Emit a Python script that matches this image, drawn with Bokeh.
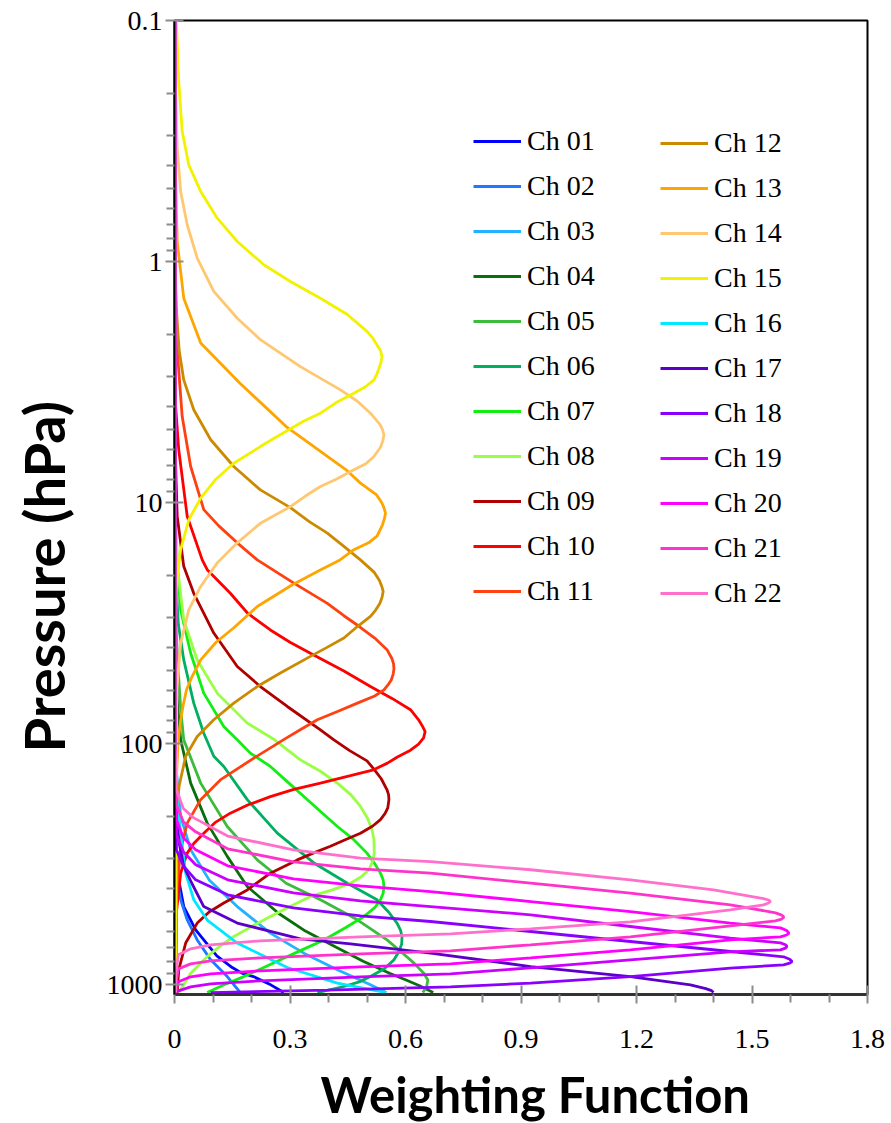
from bokeh.plotting import figure
from bokeh.models import Range1d, FixedTicker, Legend, LegendItem, Title
from bokeh.embed import file_html
from bokeh.resources import INLINE

# ---- data: pressure (hPa) and weighting function values ----
P01 = [0.1, 100, 250, 368, 475, 593, 680, 760, 850, 897, 927, 1003, 1080]
W01 = [0.001, 0.001, 0.003, 0.011, 0.024, 0.055, 0.085, 0.11, 0.15, 0.175, 0.205, 0.25, 0.284]

P02 = [0.1, 100, 250, 368, 445, 539, 653, 790, 927, 1080]
W02 = [0.001, 0.001, 0.002, 0.007, 0.016, 0.033, 0.059, 0.094, 0.137, 0.171]

P03 = [0.1, 60, 120, 200, 276, 368, 475, 612, 741, 869, 1003, 1080]
W03 = [0.001, 0.001, 0.003, 0.016, 0.042, 0.09, 0.163, 0.249, 0.336, 0.423, 0.509, 0.55]

P04 = [0.1, 20, 40, 70, 96.5, 146, 214, 294, 392, 506, 600, 700, 800, 900, 956, 1010, 1080]
W04 = [0.001, 0.001, 0.003, 0.008, 0.016, 0.042, 0.085, 0.137, 0.189, 0.27, 0.34, 0.42, 0.49, 0.56, 0.60, 0.635, 0.672]

P05 = [0.1, 15, 30, 45, 72, 96.5, 146, 221, 304, 380, 445, 539, 653, 735, 815, 900, 957, 1020, 1080]
W05 = [0.001, 0.001, 0.003, 0.008, 0.016, 0.024, 0.068, 0.137, 0.215, 0.29, 0.379, 0.475, 0.552, 0.59, 0.622, 0.648, 0.658, 0.655, 0.645]

P06 = [0.1, 10, 20, 32, 45, 68, 90.6, 113, 124.5, 171, 235.5, 313, 380, 445, 500, 556, 595, 632, 680, 735, 790, 860, 927, 975, 1019, 1080]
W06 = [0.001, 0.001, 0.003, 0.010, 0.024, 0.050, 0.076, 0.102, 0.128, 0.189, 0.267, 0.362, 0.449, 0.526, 0.556, 0.578, 0.587, 0.591, 0.59, 0.582, 0.570, 0.545, 0.509, 0.48, 0.440, 0.371]

P07 = [0.1, 8, 15, 27.9, 42.2, 61.8, 85, 96.5, 109.6, 124.5, 145, 166, 192, 221, 250, 285, 315, 345, 368, 392, 418, 445, 480, 522, 580, 653, 720, 790, 860, 927, 1000, 1080]
W07 = [0.001, 0.001, 0.003, 0.016, 0.042, 0.076, 0.128, 0.163, 0.197, 0.249, 0.295, 0.336, 0.38, 0.423, 0.465, 0.50, 0.52, 0.535, 0.542, 0.544, 0.542, 0.535, 0.52, 0.492, 0.445, 0.388, 0.33, 0.275, 0.225, 0.180, 0.13, 0.085]

P08 = [0.1, 6, 12, 20, 30.7, 45, 61.8, 82.3, 96.5, 116.9, 130, 146, 163, 182.5, 205, 228, 250, 285, 310, 334, 357, 380, 405, 431, 475, 522, 575, 632, 700, 766, 897, 1080]
W08 = [0.001, 0.001, 0.003, 0.010, 0.024, 0.059, 0.111, 0.189, 0.26, 0.327, 0.378, 0.423, 0.458, 0.483, 0.502, 0.513, 0.518, 0.519, 0.514, 0.505, 0.485, 0.457, 0.41, 0.353, 0.30, 0.249, 0.20, 0.154, 0.115, 0.085, 0.042, 0.012]

P09 = [0.1, 4, 7, 11.4, 18.4, 23.8, 34.8, 47.9, 58, 70.2, 87.7, 96.5, 107, 118, 129, 140, 155.6, 163, 171, 185, 195, 207, 220, 235.5, 250, 267, 285, 304, 345, 405, 459, 500, 556, 673, 869, 1080]
W09 = [0.001, 0.001, 0.003, 0.007, 0.024, 0.050, 0.102, 0.163, 0.223, 0.293, 0.379, 0.414, 0.455, 0.50, 0.52, 0.537, 0.552, 0.556, 0.557, 0.554, 0.547, 0.535, 0.515, 0.483, 0.445, 0.405, 0.36, 0.319, 0.249, 0.189, 0.128, 0.09, 0.059, 0.029, 0.011, 0.007]

P10 = [0.1, 2, 4, 6.04, 11.4, 17.3, 19.0, 23.8, 28.8, 33.8, 38, 42.2, 50, 58, 65, 72.4, 79.7, 85.3, 89.2, 94.7, 100.5, 106.6, 113.7, 120.6, 128.6, 136, 146, 155, 166, 180, 194.5, 213, 235.5, 260, 285, 345, 500, 1080]
W10 = [0.001, 0.001, 0.003, 0.011, 0.033, 0.072, 0.085, 0.145, 0.19, 0.249, 0.30, 0.353, 0.44, 0.509, 0.565, 0.613, 0.634, 0.645, 0.651, 0.647, 0.634, 0.613, 0.579, 0.553, 0.517, 0.457, 0.379, 0.31, 0.249, 0.19, 0.145, 0.105, 0.076, 0.05, 0.033, 0.016, 0.005, 0.003]

P11 = [0.1, 1, 2.33, 4.40, 7.09, 10.7, 12.5, 14.7, 17.3, 21.6, 26.2, 29.5, 32.7, 36.5, 40.8, 44.5, 46.7, 49, 51.5, 54.5, 57, 59.9, 63.5, 68, 73.5, 79.7, 87, 95, 115, 141.6, 171, 214, 276, 400, 1080]
W11 = [0.001, 0.001, 0.007, 0.020, 0.042, 0.076, 0.115, 0.163, 0.215, 0.310, 0.397, 0.44, 0.480, 0.52, 0.552, 0.565, 0.569, 0.57, 0.568, 0.563, 0.555, 0.544, 0.52, 0.475, 0.425, 0.371, 0.33, 0.29, 0.206, 0.119, 0.068, 0.033, 0.016, 0.006, 0.003]

P12 = [0.1, 0.8, 1.5, 2.33, 3.10, 4.12, 5.49, 7.09, 8.86, 10.5, 12.0, 13.4, 15.2, 17.3, 19.5, 21.0, 22.2, 23.4, 24.8, 26.3, 28.0, 29.7, 32.7, 36.5, 40, 43.5, 51, 58, 68, 79.7, 93.5, 113, 150, 200, 1080]
W12 = [0.001, 0.001, 0.004, 0.012, 0.024, 0.050, 0.094, 0.154, 0.223, 0.301, 0.35, 0.397, 0.44, 0.483, 0.519, 0.532, 0.538, 0.542, 0.539, 0.533, 0.522, 0.509, 0.475, 0.440, 0.395, 0.353, 0.275, 0.215, 0.154, 0.102, 0.059, 0.029, 0.012, 0.005, 0.002]

P13 = [0.1, 0.4, 0.826, 1.42, 2.18, 3.20, 4.0, 4.84, 5.6, 6.44, 7.3, 8.31, 9.3, 10.0, 10.5, 11.07, 11.7, 12.4, 13.8, 14.7, 15.7, 17.3, 19, 22, 27, 33, 38, 45, 53, 60, 70, 80, 100, 150, 1080]
W13 = [0.001, 0.002, 0.007, 0.024, 0.068, 0.17, 0.235, 0.29, 0.345, 0.397, 0.445, 0.483, 0.525, 0.538, 0.544, 0.548, 0.545, 0.540, 0.526, 0.504, 0.466, 0.43, 0.38, 0.305, 0.215, 0.155, 0.108, 0.068, 0.045, 0.031, 0.022, 0.016, 0.009, 0.004, 0.002]

P14 = [0.1, 0.2, 0.338, 0.512, 0.704, 0.968, 1.33, 1.72, 2.11, 2.73, 3.41, 3.8, 4.26, 4.75, 4.97, 5.24, 5.55, 5.9, 6.44, 6.9, 7.32, 8.0, 8.58, 9.4, 10.4, 12.2, 14.7, 17.8, 22.3, 27.9, 38.3, 60, 1080]
W14 = [0.002, 0.003, 0.007, 0.016, 0.033, 0.059, 0.102, 0.163, 0.223, 0.327, 0.431, 0.475, 0.509, 0.534, 0.540, 0.544, 0.541, 0.535, 0.518, 0.497, 0.466, 0.42, 0.379, 0.34, 0.301, 0.223, 0.163, 0.111, 0.068, 0.037, 0.016, 0.006, 0.003]

P15 = [0.1, 0.179, 0.289, 0.397, 0.512, 0.661, 0.826, 1.032, 1.21, 1.42, 1.66, 1.95, 2.09, 2.22, 2.34, 2.48, 2.63, 2.78, 2.95, 3.10, 3.30, 3.52, 3.85, 4.26, 4.6, 4.99, 5.4, 5.86, 6.87, 8.05, 9.59, 11.8, 15.7, 21.5, 30, 1080]
W15 = [0.005, 0.011, 0.020, 0.037, 0.068, 0.111, 0.163, 0.232, 0.301, 0.379, 0.449, 0.500, 0.516, 0.526, 0.535, 0.539, 0.536, 0.531, 0.525, 0.518, 0.497, 0.466, 0.42, 0.379, 0.335, 0.297, 0.26, 0.223, 0.154, 0.106, 0.068, 0.037, 0.016, 0.005, 0.003, 0.003]

P16 = [0.1, 80, 150, 235, 345, 445, 540, 673, 850, 986, 1080]
W16 = [0.001, 0.001, 0.003, 0.016, 0.029, 0.05, 0.085, 0.163, 0.293, 0.423, 0.55]

P17 = [0.1, 100, 207, 263, 323, 380, 475, 556, 646, 678, 741, 842, 926.5, 1003, 1040, 1060, 1080]
W17 = [0.001, 0.001, 0.005, 0.013, 0.024, 0.045, 0.076, 0.163, 0.327, 0.457, 0.665, 0.925, 1.184, 1.340, 1.38, 1.395, 1.40]

P18 = [0.1, 150, 276, 321.8, 367.8, 424.5, 480.7, 518.8, 547.7, 602.6, 663, 729.5, 767.4, 785, 802.7, 815, 828.5, 855, 926.5, 986.7, 1022, 1055, 1080]
W18 = [0.001, 0.001, 0.005, 0.023, 0.055, 0.138, 0.309, 0.483, 0.665, 0.925, 1.184, 1.444, 1.582, 1.598, 1.604, 1.598, 1.582, 1.444, 1.184, 0.925, 0.717, 0.397, 0.094]

P19 = [0.1, 100, 239.3, 281.4, 318.7, 367.8, 416.5, 449.5, 474.8, 513.7, 574.5, 642, 671.4, 684, 695.6, 706, 717.8, 731.6, 789.7, 852.5, 902.8, 929, 965, 993.4, 1022, 1062, 1080]
W19 = [0.001, 0.001, 0.005, 0.023, 0.055, 0.138, 0.309, 0.483, 0.665, 0.925, 1.184, 1.444, 1.574, 1.587, 1.591, 1.587, 1.574, 1.444, 1.184, 0.925, 0.717, 0.483, 0.223, 0.094, 0.042, 0.010, 0.003]

P20 = [0.1, 100, 207.3, 246.2, 276.1, 321.8, 364.3, 389.5, 411.4, 452.5, 498, 556.3, 582, 597, 612, 623, 634, 652.3, 717.8, 775, 820.6, 844.6, 877.4, 902.8, 929, 974.5, 1080]
W20 = [0.001, 0.001, 0.005, 0.023, 0.055, 0.138, 0.309, 0.483, 0.665, 0.925, 1.184, 1.444, 1.574, 1.590, 1.596, 1.590, 1.574, 1.444, 1.184, 0.925, 0.717, 0.483, 0.223, 0.094, 0.042, 0.010, 0.003]

P21 = [0.1, 100, 179.7, 211.3, 232.5, 273.5, 309.6, 331.2, 345, 379.6, 417.7, 467, 504.1, 515, 525, 535, 544, 570.8, 634, 684.3, 724.8, 745.7, 775, 797.5, 820.6, 860.8, 1003, 1080]
W21 = [0.001, 0.001, 0.005, 0.023, 0.055, 0.138, 0.309, 0.483, 0.665, 0.925, 1.184, 1.444, 1.561, 1.577, 1.583, 1.577, 1.561, 1.444, 1.184, 0.925, 0.717, 0.483, 0.223, 0.094, 0.042, 0.010, 0.003, 0.003]

P22 = [0.1, 100, 156, 186, 203, 242, 276, 299, 309, 334, 368, 405, 440, 446, 452, 459, 467, 490, 549.2, 587.3, 616, 634, 658.6, 684.3, 711, 753, 911.5, 1080]
W22 = [0.001, 0.001, 0.005, 0.023, 0.049, 0.138, 0.309, 0.483, 0.665, 0.925, 1.184, 1.400, 1.530, 1.543, 1.548, 1.543, 1.530, 1.444, 1.184, 0.925, 0.717, 0.483, 0.223, 0.094, 0.042, 0.010, 0.003, 0.003]

LABELS = ["Ch %02d" % i for i in range(1, 23)]
COLORS = ["#0000ff", "#1f78ff", "#22b2ff", "#0a6e0a", "#3cbb3c", "#00b060",
          "#11ee11", "#99ff44", "#b00000", "#ff0000", "#ff4010", "#cc8a00",
          "#ffa500", "#ffc870", "#f2f200", "#00e8ff", "#5a00c8", "#8a00ff",
          "#cc00ff", "#ff00ff", "#ff33cc", "#ff70cc"]
PRESSURES = [P01, P02, P03, P04, P05, P06, P07, P08, P09, P10, P11,
             P12, P13, P14, P15, P16, P17, P18, P19, P20, P21, P22]
WEIGHTS = [W01, W02, W03, W04, W05, W06, W07, W08, W09, W10, W11,
           W12, W13, W14, W15, W16, W17, W18, W19, W20, W21, W22]

X_TICKS = [0, 0.3, 0.6, 0.9, 1.2, 1.5, 1.8]
X_TICK_LABELS = ["0", "0.3", "0.6", "0.9", "1.2", "1.5", "1.8"]
Y_TICKS = [0.1, 1, 10, 100, 1000]
Y_TICK_LABELS = ["0.1", "1", "10", "100", "1000"]
X_TITLE = "Weighting Function"
Y_TITLE = "Pressure (hPa)"

p = figure(frame_width=693, frame_height=974,
           min_border_left=174, min_border_top=20, min_border_right=21, min_border_bottom=129,
           y_axis_type="log", x_range=Range1d(0, 1.8), y_range=Range1d(1100, 0.1),
           output_backend="svg", toolbar_location=None)
p.background_fill_color = "white"
p.border_fill_color = "white"
p.grid.visible = False
p.outline_line_color = "black"
p.outline_line_width = 2

renderers = []
for lab, pr, wt, col in zip(LABELS, PRESSURES, WEIGHTS, COLORS):
    r = p.line(wt, pr, line_color=col, line_width=2.8)
    renderers.append(r)

# axes
xminor = [round(0.1 * i, 1) for i in range(19) if i % 3 != 0]
p.xaxis.ticker = FixedTicker(ticks=X_TICKS, minor_ticks=xminor)
p.xaxis.major_label_overrides = {t: l for t, l in zip(X_TICKS, X_TICK_LABELS)}
yminor = []
for dec in [0.1, 1, 10, 100]:
    for k in range(2, 10):
        yminor.append(round(dec * k, 3))
p.yaxis.ticker = FixedTicker(ticks=Y_TICKS, minor_ticks=yminor)
p.yaxis.major_label_overrides = {t: l for t, l in zip(Y_TICKS, Y_TICK_LABELS)}

for ax in (p.xaxis[0], p.yaxis[0]):
    ax.major_label_text_font = "Liberation Serif"
    ax.major_label_text_font_size = "28px"
    ax.major_label_text_color = "black"
    ax.major_tick_line_color = "#8c8c8c"
    ax.major_tick_line_width = 2
    ax.minor_tick_line_color = "#8c8c8c"
    ax.minor_tick_line_width = 2
    ax.major_tick_in = 9
    ax.major_tick_out = 9
    ax.minor_tick_in = 0
    ax.minor_tick_out = 8

p.xaxis.axis_line_color = "#333333"
p.xaxis.axis_line_width = 3
p.yaxis.axis_line_color = "black"
p.yaxis.axis_line_width = 2
p.xaxis.major_label_standoff = 26
p.yaxis.major_label_standoff = 3

# axis titles (placed off-centre, as in the reference); the empty line only pads the title box
p.add_layout(Title(text=Y_TITLE + "\n", align="left", offset=242, standoff=0,
                   vertical_align="bottom", text_line_height=0.39,
                   text_font="Lato", text_font_style="bold", text_font_size="56px",
                   text_color="black"), "left")
p.add_layout(Title(text="\n" + X_TITLE, align="left", offset=146, standoff=0,
                   vertical_align="top", text_line_height=0.25,
                   text_font="Lato", text_font_style="bold", text_font_size="49px",
                   text_color="black"), "below")

def make_legend(items, loc):
    lg = Legend(items=items, location=loc, orientation="vertical",
                border_line_color=None, background_fill_alpha=0,
                padding=0, margin=0, spacing=13,
                glyph_height=30, glyph_width=48, label_height=30,
                label_standoff=6,
                label_text_font="Liberation Serif", label_text_font_size="28px",
                label_text_color="black")
    return lg

items1 = [LegendItem(label=LABELS[i], renderers=[renderers[i]]) for i in range(11)]
items2 = [LegendItem(label=LABELS[i], renderers=[renderers[i]]) for i in range(11, 22)]
p.add_layout(make_legend(items1, (299, 387)))
p.add_layout(make_legend(items2, (486, 385)))

open("out.html", "w").write(file_html(p, INLINE))
